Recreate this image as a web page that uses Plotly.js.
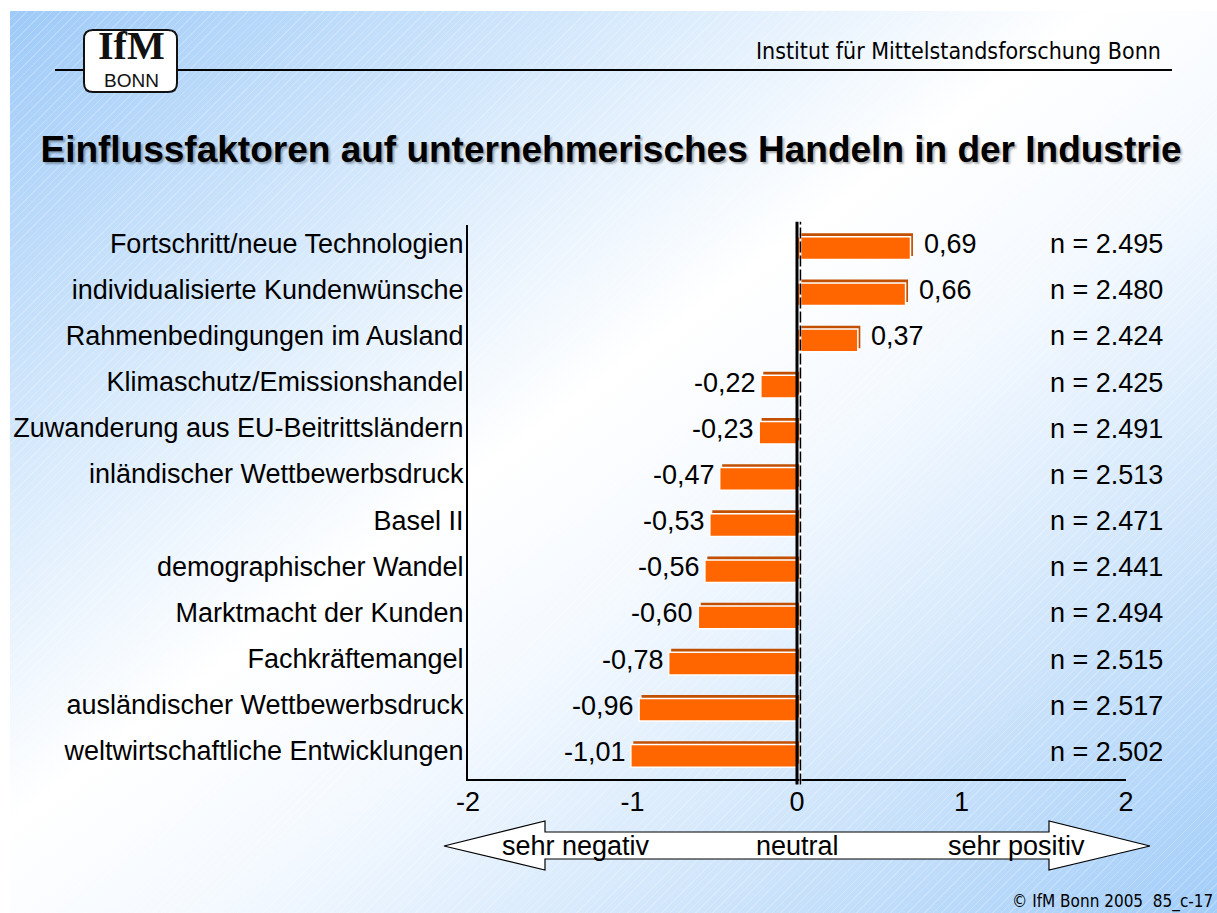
<!DOCTYPE html>
<html>
<head>
<meta charset="utf-8">
<script src="https://cdn.plot.ly/plotly-3.0.1.min.js"></script>
<style>
  html, body { margin: 0; padding: 0; background: #ffffff; width: 1217px; height: 913px; overflow: hidden; }
  #slide {
    position: absolute; left: 10px; top: 11px; width: 1207px; height: 902px;
    background:
      repeating-linear-gradient(135deg, rgba(255,255,255,0.22) 0px, rgba(255,255,255,0.22) 1px, rgba(255,255,255,0) 1px, rgba(255,255,255,0) 6px),
      linear-gradient(to bottom right, #9ecaf8 0%, #d6e9fc 25%, #ffffff 45%, #f4f9ff 58%, #cfe5fb 78%, #a2cdf9 100%);
  }
  #chart { position: absolute; left: 0; top: 0; width: 1217px; height: 913px; }
</style>
</head>
<body>
<div id="slide"></div>
<div id="chart"></div>
<script>
// ---- data ----
const categories = [
  'Fortschritt/neue Technologien',
  'individualisierte Kundenwünsche',
  'Rahmenbedingungen im Ausland',
  'Klimaschutz/Emissionshandel',
  'Zuwanderung aus EU-Beitrittsländern',
  'inländischer Wettbewerbsdruck',
  'Basel II',
  'demographischer Wandel',
  'Marktmacht der Kunden',
  'Fachkräftemangel',
  'ausländischer Wettbewerbsdruck',
  'weltwirtschaftliche Entwicklungen'
];
const values = [0.69, 0.66, 0.37, -0.22, -0.23, -0.47, -0.53, -0.56, -0.60, -0.78, -0.96, -1.01];
const nLabels = ['2.495', '2.480', '2.424', '2.425', '2.491', '2.513', '2.471', '2.441', '2.494', '2.515', '2.517', '2.502'];
const xTickVals = [-2, -1, 0, 1, 2];
const xTickLabels = ['-2', '-1', '0', '1', '2'];
const scaleLabels = ['sehr negativ', 'neutral', 'sehr positiv'];
const titleText = 'Einflussfaktoren auf unternehmerisches Handeln in der Industrie';
const headerText = 'Institut für Mittelstandsforschung Bonn';
const footerText = '© IfM Bonn 2005\u00a0\u00a085_c-17';

// ---- layout geometry (pixels) ----
const W = 1217, H = 913;
const M = { l: 468, r: 91, t: 225, b: 134 };
const PW = W - M.l - M.r, PH = H - M.t - M.b;
const px = x => (x - M.l) / PW;
const py = y => (H - M.b - y) / PH;
const P = (x, y) => px(x).toFixed(5) + ',' + py(y).toFixed(5);

const FONT = 'Liberation Sans, Arial, sans-serif';
const TAHOMA = 'DejaVu Sans Condensed, DejaVu Sans, sans-serif';

const fmt = v => v.toFixed(2).replace('.', ',');

const shadowTrace = {
  type: 'bar', orientation: 'h',
  x: values, y: categories, base: 0.015,
  offset: -0.32, width: 0.49,
  marker: { color: '#c24f00', line: { width: 0 } },
  hoverinfo: 'skip', showlegend: false
};
const mainTrace = {
  type: 'bar', orientation: 'h',
  x: values, y: categories,
  offset: -0.245, width: 0.49,
  marker: { color: '#ff6600', line: { color: '#ffffff', width: 1.5 } },
  hoverinfo: 'skip', showlegend: false
};

const annotations = [];
values.forEach((v, i) => {
  annotations.push({
    xref: 'x', yref: 'y', x: v, y: categories[i],
    text: fmt(v), showarrow: false,
    xanchor: v >= 0 ? 'left' : 'right', xshift: v >= 0 ? 11 : -3, yshift: 4,
    font: { family: FONT, size: 27, color: '#000' }
  });
  annotations.push({
    xref: 'paper', yref: 'y', x: px(1048), y: categories[i],
    text: 'n = ' + nLabels[i], showarrow: false,
    xanchor: 'left', yshift: 4,
    font: { family: FONT, size: 27, color: '#000' }
  });
});
// scale arrow labels
const scaleX = [576, 797, 1016];
scaleLabels.forEach((t, i) => {
  annotations.push({
    xref: 'paper', yref: 'paper', x: px(scaleX[i]), y: py(846),
    text: t, showarrow: false, xanchor: 'center', yanchor: 'middle',
    font: { family: FONT, size: 27, color: '#000' }
  });
});
// header / logo / footer
annotations.push({
  xref: 'paper', yref: 'paper', x: px(1163), y: py(51), text: headerText,
  showarrow: false, xanchor: 'right', yanchor: 'middle',
  font: { family: TAHOMA, size: 23, color: '#000' }
});
annotations.push({
  xref: 'paper', yref: 'paper', x: px(131), y: py(45), text: 'IfM',
  showarrow: false, xanchor: 'center', yanchor: 'middle',
  font: { family: 'Liberation Serif, Times New Roman, serif', size: 40, weight: 'bold', color: '#111' }
});
annotations.push({
  xref: 'paper', yref: 'paper', x: px(131), y: py(80), text: 'BONN',
  showarrow: false, xanchor: 'center', yanchor: 'middle',
  font: { family: FONT, size: 19, color: '#111' }
});
annotations.push({
  xref: 'paper', yref: 'paper', x: px(1215), y: py(901), text: footerText,
  showarrow: false, xanchor: 'right', yanchor: 'middle',
  font: { family: TAHOMA, size: 17, color: '#000' }
});

const logoPath = (() => {
  const x0 = 84, x1 = 177, y0 = 30, y1 = 92, r = 9;
  return 'M' + P(x0 + r, y0) + ' L' + P(x1 - r, y0) + ' Q' + P(x1, y0) + ' ' + P(x1, y0 + r) +
    ' L' + P(x1, y1 - r) + ' Q' + P(x1, y1) + ' ' + P(x1 - r, y1) +
    ' L' + P(x0 + r, y1) + ' Q' + P(x0, y1) + ' ' + P(x0, y1 - r) +
    ' L' + P(x0, y0 + r) + ' Q' + P(x0, y0) + ' ' + P(x0 + r, y0) + ' Z';
})();
const arrowPath = 'M' + P(444, 846) + ' L' + P(545, 821) + ' L' + P(545, 832) + ' L' + P(1049, 832) +
  ' L' + P(1049, 821) + ' L' + P(1150, 846) + ' L' + P(1049, 870) + ' L' + P(1049, 859) +
  ' L' + P(545, 859) + ' L' + P(545, 870) + ' Z';

const shapes = [
  { type: 'line', xref: 'paper', yref: 'paper', x0: px(55), x1: px(1172), y0: py(70), y1: py(70),
    line: { color: '#000', width: 2 }, layer: 'above' },
  { type: 'path', xref: 'paper', yref: 'paper', path: logoPath,
    fillcolor: '#ffffff', line: { color: '#111', width: 2 }, layer: 'above' },
  { type: 'path', xref: 'paper', yref: 'paper', path: arrowPath,
    fillcolor: '#ffffff', line: { color: '#000', width: 1.2 }, layer: 'below' },
  { type: 'line', xref: 'x', yref: 'paper', x0: 0, x1: 0, y0: -0.01, y1: 1.006,
    line: { color: '#000', width: 3 }, layer: 'above' },
  { type: 'line', xref: 'x', yref: 'paper', x0: 0.021, x1: 0.021, y0: -0.01, y1: 1.006,
    line: { color: '#ffffff', width: 2 }, layer: 'above' },
  { type: 'line', xref: 'x', yref: 'paper', x0: 0.021, x1: 0.021, y0: -0.01, y1: 1.006,
    line: { color: '#000', width: 1.5, dash: '11px,3px' }, layer: 'above' }
];

const layout = {
  width: W, height: H,
  margin: M,
  paper_bgcolor: 'rgba(0,0,0,0)',
  plot_bgcolor: 'rgba(0,0,0,0)',
  barmode: 'overlay',
  showlegend: false,
  title: {
    text: titleText,
    x: 611 / W, xref: 'container', xanchor: 'center',
    y: 1 - 149 / H, yref: 'container', yanchor: 'middle',
    font: { family: FONT, size: 37, weight: 'bold', color: '#000',
            shadow: '2px 2px 2px rgba(0,0,0,0.3)' }
  },
  xaxis: {
    range: [-2, 2], tickvals: xTickVals, ticktext: xTickLabels,
    showgrid: false, zeroline: false, ticks: '',
    showline: true, linecolor: '#000', linewidth: 2,
    ticklabelstandoff: -2,
    tickfont: { family: FONT, size: 27, color: '#000' }
  },
  yaxis: {
    type: 'category', categoryorder: 'array', categoryarray: categories,
    range: [11.5, -0.5], autorange: false,
    showgrid: false, zeroline: false, ticks: '',
    showline: true, linecolor: '#000', linewidth: 2,
    ticklabelstandoff: -3, ticklabelshift: 5,
    tickfont: { family: FONT, size: 27, color: '#000' }
  },
  annotations: annotations,
  shapes: shapes
};

Plotly.newPlot('chart', [shadowTrace, mainTrace], layout, { staticPlot: true, displayModeBar: false });
</script>
</body>
</html>
